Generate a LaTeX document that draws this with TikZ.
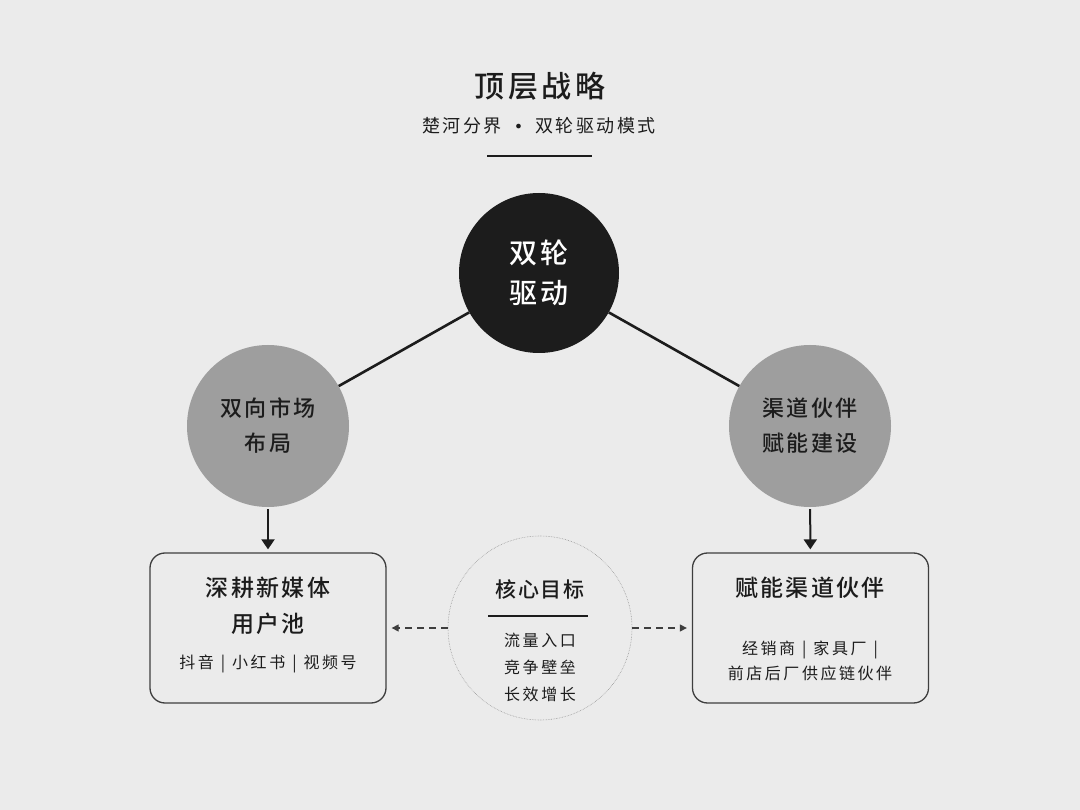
\documentclass[tikz,border=0pt]{standalone}
\usepackage{fontspec}
\setmainfont{Noto Sans CJK SC}[BoldFont={Noto Sans CJK SC Medium}]
\newfontfamily\dejavu{DejaVu Sans}
\usetikzlibrary{arrows.meta}
\definecolor{bg}{HTML}{EBEBEB}
\definecolor{ink}{HTML}{1C1C1C}
\definecolor{midgray}{HTML}{9E9E9E}
\definecolor{dotgray}{HTML}{9A9A9A}
\tikzset{
  txt/.style={text=ink, inner sep=0pt, align=center},
  bigcirc/.style={circle, fill=ink, minimum size=160pt, inner sep=0pt, text=white, align=center},
  graycirc/.style={circle, fill=midgray, minimum size=162pt, inner sep=0pt, text=ink, align=center},
  boxnode/.style={draw=ink!85, line width=1.3pt, rounded corners=15pt, minimum width=236pt, minimum height=150pt, inner sep=0pt},
  goalcirc/.style={circle, draw=dotgray, densely dotted, line width=0.6pt, minimum size=184pt, inner sep=0pt},
  link/.style={ink, line width=2.6pt},
  downarrow/.style={ink, line width=2pt, -{Triangle[length=10pt, width=13pt]}},
  dasharrow/.style={ink!85, line width=1.3pt, dash pattern=on 7pt off 5pt, -{Triangle[length=7pt, width=7pt]}},
}
\newcommand{\ls}[1]{\addfontfeatures{LetterSpace=#1}}
\newcommand{\sep}{\hspace{7pt}|\hspace{7pt}}
\begin{document}
\begin{tikzpicture}[x=1pt,y=-1pt]
  \fill[bg] (0,0) rectangle (1080,810);
  \useasboundingbox (0,0) rectangle (1080,810);

  % header
  \node[txt, font=\fontsize{30}{36}\selectfont\bfseries\ls{12}] (title) at (540,86) {顶层战略};
  \node[txt, font=\fontsize{18}{22}\selectfont\ls{14}] (sub) at (539,126) {楚河分界\hspace{12pt}{\dejavu\fontsize{16}{16}\selectfont •}\hspace{12pt}双轮驱动模式};
  \coordinate (hl) at (487,156);
  \coordinate (hr) at (592,156);
  \draw[ink, line width=2.6pt] (hl) -- (hr);

  % circles
  \node[bigcirc, font=\fontsize{28}{40}\selectfont\bfseries\ls{8}] (top) at (539,273) {双轮\\驱动};
  \node[graycirc, font=\fontsize{22}{35}\selectfont\bfseries\ls{12}] (left) at (268,426) {双向市场\\布局};
  \node[graycirc, font=\fontsize{22}{35}\selectfont\bfseries\ls{12}] (right) at (810,426) {渠道伙伴\\赋能建设};

  \draw[link] (top) -- (left);
  \draw[link] (top) -- (right);

  % boxes
  \node[boxnode] (lbox) at (268,628) {};
  \node[boxnode] (rbox) at (810.5,628) {};

  \draw[downarrow, shorten <=2pt, shorten >=3pt] (left) -- (lbox);
  \draw[downarrow, shorten <=2pt, shorten >=3pt] (right) -- (rbox);

  \node[txt, font=\fontsize{23}{36}\selectfont\bfseries\ls{10}] (ltitle) at (268,606) {深耕新媒体\\用户池};
  \node[txt, font=\fontsize{16}{20}\selectfont\ls{16}] (lsub) at (268,664) {抖音\sep 小红书\sep 视频号};

  \node[txt, font=\fontsize{23}{28}\selectfont\bfseries\ls{10}] (rtitle) at (810,588) {赋能渠道伙伴};
  \node[txt, font=\fontsize{16}{25}\selectfont\ls{16}] (rsub) at (810,661) {经销商\sep 家具厂\sep\\前店后厂供应链伙伴};

  % goal circle
  \node[goalcirc] (goal) at (540,628) {};
  \node[txt, font=\fontsize{21}{26}\selectfont\bfseries\ls{8}] (gtitle) at (540,589) {核心目标};
  \coordinate (gl) at (488,616);
  \coordinate (gr) at (588,616);
  \draw[ink, line width=1.8pt] (gl) -- (gr);
  \node[txt, font=\fontsize{16}{27}\selectfont\ls{16}] (gsub) at (540,667) {流量入口\\竞争壁垒\\长效增长};

  \draw[dasharrow, shorten >=5pt] (goal.west) -- (lbox.east);
  \draw[dasharrow, shorten >=5pt] (goal.east) -- (rbox.west);
\end{tikzpicture}
\end{document}
